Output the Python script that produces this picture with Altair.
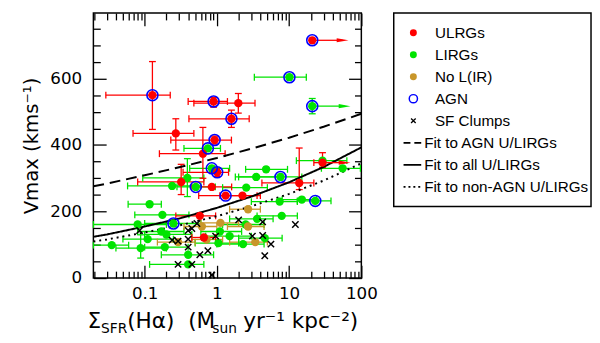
import altair as alt
import pandas as pd

# ---------------- values ----------------
CLASSES = ["ULRGs", "LIRGs", "No L(IR)"]
COLORS = ["#ff0000", "#00e400", "#c8962a"]

# ULRGs (red)
u_x   = [0.128, 0.90, 1.98, 1.59, 0.27, 0.93, 0.64, 1.01, 0.32, 0.85, 1.32, 2.26, 0.58, 13.8, 29.0, 20.9, 0.66]
u_y   = [550, 531, 526, 479, 435, 415, 374, 318, 289, 274, 248, 248, 187, 286, 347, 715, 122]
u_xlo = [0.029, 0.40, 0.48, 0.41, 0.069, 0.23, 0.16, 0.34, 0.08, 0.45, 0.56, 1.1, 0.27, 4.2, 22.0, None, 0.45]
u_xhi = [0.226, 1.40, 3.37, 2.8, 0.48, 1.59, 1.3, 1.45, 0.66, 1.6, 3.6, 4.0, 0.96, 22.0, None, None, 0.96]
u_ylo = [447, 514, 496, 453, 385, 403, 300, 305, 251, None, None, None, None, 266, 333, None, None]
u_yhi = [651, 543, 555, 505, 479, 427, 453, 331, 342, None, None, None, None, 391, 377, None, None]
u_agn = [1, 1, 0, 1, 0, 1, 0, 1, 0, 0, 1, 0, 0, 0, 0, 1, 0]

# LIRGs (green)
l_x   = [10.1, 20.9, 0.75, 0.85, 0.39, 0.24, 0.51, 0.117, 0.176, 0.25, 0.08, 0.11, 0.088, 0.19, 0.17, 0.20, 0.40, 0.40,
         1.10, 1.05, 29.0, 55.0, 7.6, 4.8, 3.5, 2.55, 15.0, 23.0, 7.4, 7.9, 3.6, 2.5, 1.5, 4.6, 2.3, 0.035]
l_y   = [604, 517, 390, 330, 301, 277, 274, 222, 190, 164, 161, 117, 90, 93, 140, 131, 70, 41,
         140, 105, 353, 330, 304, 327, 304, 272, 236, 232, 230, 187, 178, 161, 126, 120, 102, 99]
l_xlo = [3.3, 20.9, 0.35, 0.42, 0.094, 0.058, 0.28, 0.059, 0.073, 0.10, 0.0195, 0.05, 0.04, 0.10, 0.08, 0.10, 0.17, 0.117,
         0.6, 0.5, 12.6, 28.0, 2.0, 2.5, 1.8, 1.2, 8.0, 13.0, 3.0, 3.6, 1.5, 1.2, 0.7, 2.0, 1.0, 0.0195]
l_xhi = [17.3, None, 1.12, 1.5, 0.66, 0.60, 0.95, 0.17, 0.41, 0.6, 0.2, 0.25, 0.2, 0.4, 0.35, 0.45, 0.9, 0.66,
         2.2, 2.0, 63.0, 97.0, 15.0, 9.5, 8.0, 5.0, 24.0, 38.0, 13.0, 13.0, 6.0, 4.5, 3.0, 8.0, 4.5, 0.06]
l_ylo = [None, 494, None, None, 245, None, None, None, None, None, None, None, 60, None, None, None, None, None,
         None, None, None, None, None, None, None, None, None, None, None, None, None, None, None, None, None, None]
l_yhi = [None, 540, None, None, 359, None, None, None, None, None, None, None, 130, None, None, None, None, None,
         None, None, None, None, None, None, None, None, None, None, None, None, None, None, None, None, None, None]
l_agn = [1, 1, 1, 1, 0, 0, 1, 0, 0, 1, 0, 0, 0, 0, 0, 0, 0, 0,
         0, 0, 0, 0, 1, 0, 0, 0, 0, 1, 0, 0, 0, 0, 0, 0, 0, 0]

# No L(IR) (gold)
n_x   = [0.62, 0.29, 0.72, 1.12, 2.7, 2.7, 3.4]
n_y   = [155, 108, 116, 166, 155, 207, 108]
n_xlo = [0.35, 0.15, 0.45, 0.6, 1.4, 1.5, 1.5]
n_xhi = [1.0, 0.5, 1.2, 2.0, 4.5, 4.0, 5.0]

# SF clumps (black crosses)
c_x = [0.085, 0.40, 0.45, 0.53, 0.24, 0.29, 0.40, 0.40, 0.75, 0.58, 0.29, 0.45, 0.85, 0.96, 2.0, 4.3, 12.2, 3.1, 4.3, 5.6, 4.6]
c_y = [143, 143, 149, 164, 114, 111, 117, 93, 82, 70, 41, 41, 9, 126, 175, 169, 161, 126, 128, 102, 67]

# lower limits drawn as arrows
arr_cls = ["ULRGs", "LIRGs", "ULRGs"]
arr_x0 = [20.9, 20.9, 29.0]
arr_x1 = [55.0, 58.6, 58.6]
arr_y = [715, 517, 347]

# fitted relations
fit_x = [0.0195, 0.03, 0.1, 0.3, 1, 3, 10, 30, 100]
fit_agn = [276, 284, 309, 333, 361, 389, 422, 455, 494]
fit_all = [124, 131, 155, 179, 211, 245, 288, 334, 393]
fit_non = [110, 116, 137, 158, 186, 216, 253, 293, 345]

# axis ticks
x_major = [0.1, 1, 10, 100]
x_minor = [round(k * d, 4) for d in (0.01, 0.1, 1, 10) for k in range(2, 10) if 0.0195 <= k * d <= 100]
y_major = [0, 200, 400, 600]
y_minor = [v for v in range(50, 800, 50) if v % 200]

leg_labels = ["ULRGs", "LIRGs", "No L(IR)", "AGN", "SF Clumps",
              "Fit to AGN U/LIRGs", "Fit to all U/LIRGs", "Fit to non-AGN U/LIRGs"]
leg_kind = ["ULRGs", "LIRGs", "No L(IR)", "AGN", "SF Clumps", "dashed", "solid", "dotted"]

# ---------------- tables ----------------
def rows(cls, xs, ys, xlo, xhi, ylo=None, yhi=None, agn=None):
    n = len(xs)
    ylo = ylo or [None] * n
    yhi = yhi or [None] * n
    agn = agn or [0] * n
    return [dict(cls=cls, x=xs[i], y=ys[i], xlo=xlo[i], xhi=xhi[i], ylo=ylo[i], yhi=yhi[i], agn=agn[i])
            for i in range(n)]

pts = pd.DataFrame(rows("LIRGs", l_x, l_y, l_xlo, l_xhi, l_ylo, l_yhi, l_agn)
                   + rows("No L(IR)", n_x, n_y, n_xlo, n_xhi)
                   + rows("ULRGs", u_x, u_y, u_xlo, u_xhi, u_ylo, u_yhi, u_agn))

xe, ye, xc, yc = [], [], [], []
for r in pts.itertuples():
    lo = r.xlo if pd.notna(r.xlo) else r.x
    hi = r.xhi if pd.notna(r.xhi) else r.x
    if lo != hi:
        xe.append(dict(cls=r.cls, lo=lo, hi=hi, y=r.y))
    for v in (r.xlo, r.xhi):
        if pd.notna(v) and v != r.x:
            xc.append(dict(cls=r.cls, cx=v, y=r.y))
    if pd.notna(r.ylo) and pd.notna(r.yhi):
        ye.append(dict(cls=r.cls, x=r.x, lo=r.ylo, hi=r.yhi))
        yc.append(dict(cls=r.cls, x=r.x, cy=r.ylo))
        yc.append(dict(cls=r.cls, x=r.x, cy=r.yhi))
xe, ye, xc, yc = map(pd.DataFrame, (xe, ye, xc, yc))

clumps = pd.DataFrame({"x": c_x, "y": c_y})
arrows = pd.DataFrame({"cls": arr_cls, "x0": arr_x0, "x1": arr_x1, "y": arr_y})
fits = pd.DataFrame({"x": fit_x, "agn": fit_agn, "all": fit_all, "non": fit_non})
leg = pd.DataFrame({"i": list(range(len(leg_labels))), "label": leg_labels, "kind": leg_kind})

# ---------------- chart ----------------
W, H = 273, 270
FONT = "DejaVu Sans"
XS = alt.Scale(type="log", domain=[0.0195, 100], nice=False)
YS = alt.Scale(domain=[0, 797], nice=False, zero=False)
CS = alt.Scale(domain=CLASSES, range=COLORS)
color = alt.Color("cls:N", scale=CS, legend=None)

def ax(orient, values, major, labels=False, title=None, **kw):
    size = 13 if major else 7
    return alt.Axis(orient=orient, values=values, tickSize=size, offset=-size, domain=False, grid=False,
                    tickColor="black", tickWidth=1.3, labels=labels, title=title,
                    labelFlush=False, labelOverlap=False, **kw)

AX_B = ax("bottom", x_major, True, labels=True, format="~g", labelFont=FONT, labelFontSize=17,
          labelColor="black", labelPadding=8)
AX_L = ax("left", y_major, True, labels=True, labelFont=FONT, labelFontSize=17, labelColor="black",
          labelPadding=12, title="Vmax (kms⁻¹)", titleFont=FONT, titleFontSize=20, titleFontWeight="normal",
          titleColor="black", titlePadding=8)

l_xerr = alt.Chart(xe).mark_rule(strokeWidth=1.3).encode(
    x=alt.X("lo:Q", scale=XS, axis=AX_B), x2="hi:Q",
    y=alt.Y("y:Q", scale=YS, axis=AX_L), color=color)
l_yerr = alt.Chart(ye).mark_rule(strokeWidth=1.3).encode(
    x=alt.X("x:Q", scale=XS, axis=ax("bottom", x_minor, False)),
    y=alt.Y("lo:Q", scale=YS, axis=ax("left", y_minor, False)), y2="hi:Q", color=color)
l_xcap = alt.Chart(xc).mark_point(shape="M0,-1L0,1", filled=False, size=49, strokeWidth=1.3, opacity=1).encode(
    x=alt.X("cx:Q", scale=XS, axis=ax("top", x_major, True)),
    y=alt.Y("y:Q", scale=YS, axis=ax("right", y_major, True)), color=color)
l_ycap = alt.Chart(yc).mark_point(shape="M-1,0L1,0", filled=False, size=49, strokeWidth=1.3, opacity=1).encode(
    x=alt.X("x:Q", scale=XS, axis=ax("top", x_minor, False)),
    y=alt.Y("cy:Q", scale=YS, axis=ax("right", y_minor, False)), color=color)

def fit_layer(field, dash):
    return alt.Chart(fits).mark_line(color="black", strokeWidth=2, strokeDash=dash).encode(
        x=alt.X("x:Q", scale=XS, axis=None), y=alt.Y(f"{field}:Q", scale=YS, axis=None))

l_arrow = alt.Chart(arrows).mark_rule(strokeWidth=1.3).encode(
    x=alt.X("x0:Q", scale=XS, axis=None), x2="x1:Q", y=alt.Y("y:Q", scale=YS, axis=None), color=color)
l_head = alt.Chart(arrows).mark_point(shape="M-1,-0.35L1,0L-1,0.35Z", filled=True, size=144, opacity=1).encode(
    x=alt.X("x1:Q", scale=XS, axis=None), y=alt.Y("y:Q", scale=YS, axis=None), color=color)
l_pts = alt.Chart(pts).mark_circle(size=72, opacity=1).encode(
    x=alt.X("x:Q", scale=XS, axis=None), y=alt.Y("y:Q", scale=YS, axis=None), color=color)
l_agn = alt.Chart(pts).transform_filter("datum.agn == 1").mark_point(
    shape="circle", filled=False, size=125, strokeWidth=1.6, color="#0000ff", opacity=1).encode(
    x=alt.X("x:Q", scale=XS, axis=None), y=alt.Y("y:Q", scale=YS, axis=None))
l_clump = alt.Chart(clumps).mark_point(shape="M-1,-1L1,1M-1,1L1,-1", filled=False, size=42,
                                       strokeWidth=1.5, color="black", opacity=1).encode(
    x=alt.X("x:Q", scale=XS, axis=None), y=alt.Y("y:Q", scale=YS, axis=None))

# x-axis title with sub/superscripts (non-breaking spaces so SVG keeps them)
NB = "\u00a0"
F, f = 22, 14
yb = H + 51
segs = [("Σ", F, 0), ("SFR", f, 5), ("(Hα)" + NB + NB + "(M", F, 0), ("sun", f, 5),
        (NB + "yr⁻¹" + NB + "kpc⁻²)", F, 0)]
ems = [0.632, 1.905, 3.94, 2.25, 5.75]
total = sum(e * s[1] for e, s in zip(ems, segs))
pos = W / 2 - total / 2
dummy = pd.DataFrame({"a": [0]})
title_layers = []
for (txt, sz, dy), e in zip(segs, ems):
    title_layers.append(alt.Chart(dummy).mark_text(align="left", baseline="alphabetic", font=FONT,
                                                   fontSize=sz, color="black").encode(
        x=alt.value(pos), y=alt.value(yb + dy), text=alt.value(txt)))
    pos += e * sz

main = alt.layer(
    l_xerr, l_yerr, l_xcap, l_ycap,
    fit_layer("agn", [11, 6]), fit_layer("all", [1, 0]), fit_layer("non", [2, 4]),
    l_arrow, l_head, l_pts, l_agn, l_clump, *title_layers
).resolve_axis(x="independent", y="independent").properties(width=W, height=H)

# legend panel
LY = alt.Scale(domain=[-0.892, 7.89], reverse=True, nice=False, zero=False)
ly = alt.Y("i:Q", scale=LY, axis=None)
LFONT = "Liberation Sans"
LFS = 15.5
g_dots = alt.Chart(leg).transform_filter("datum.i < 3").mark_circle(size=50, opacity=1).encode(
    x=alt.value(20), y=ly, color=alt.Color("kind:N", scale=CS, legend=None))
g_ring = alt.Chart(leg).transform_filter("datum.kind == 'AGN'").mark_point(
    shape="circle", filled=False, size=70, strokeWidth=1.5, color="#0000ff", opacity=1).encode(x=alt.value(20), y=ly)
g_cross = alt.Chart(leg).transform_filter("datum.kind == 'SF Clumps'").mark_point(
    shape="M-1,-1L1,1M-1,1L1,-1", filled=False, size=22, strokeWidth=1.3, color="black", opacity=1).encode(
    x=alt.value(20), y=ly)

def g_line(kind, dash):
    return alt.Chart(leg).transform_filter(f"datum.kind == '{kind}'").mark_rule(
        color="black", strokeWidth=1.8, strokeDash=dash).encode(x=alt.value(10), x2=alt.value(28), y=ly)

g_text1 = alt.Chart(leg).transform_filter("datum.i < 5").mark_text(
    align="left", baseline="middle", font=LFONT, fontSize=LFS, color="black").encode(
    x=alt.value(42), y=ly, text="label:N")
g_text2 = alt.Chart(leg).transform_filter("datum.i >= 5").mark_text(
    align="left", baseline="middle", font=LFONT, fontSize=LFS, color="black").encode(
    x=alt.value(31), y=ly, text="label:N")

legend_panel = alt.layer(
    g_dots, g_ring, g_cross, g_line("dashed", [7, 4]), g_line("solid", [1, 0]), g_line("dotted", [2, 3]),
    g_text1, g_text2
).properties(width=201, height=197)

chart = alt.hconcat(main, legend_panel, spacing=33, bounds="flush").properties(
    padding={"left": 13, "top": 0, "right": 0, "bottom": 0}
).configure_view(stroke="black", strokeWidth=1.5)

chart.save("out.html", embed_options={"renderer": "svg", "actions": False})
